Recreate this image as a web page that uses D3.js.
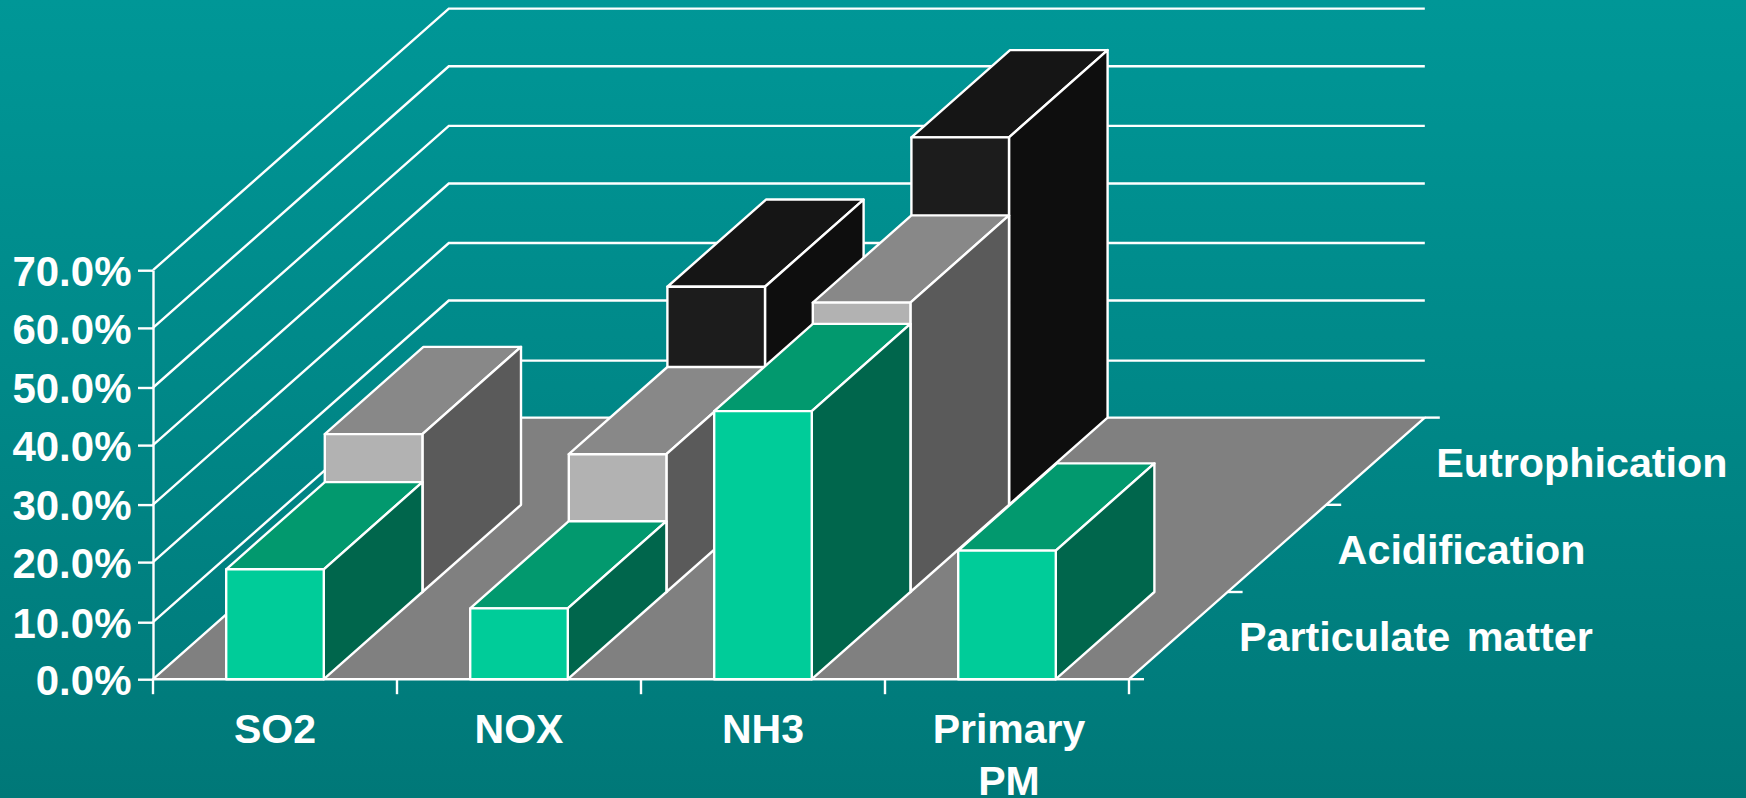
<!DOCTYPE html>
<html><head><meta charset="utf-8">
<script src="https://cdn.jsdelivr.net/npm/d3@7"></script>
<style>
html,body{margin:0;padding:0;overflow:hidden;width:1746px;height:798px;background:#008888}
text{font-family:"Liberation Sans",Arial,sans-serif;font-weight:700;fill:#fff}
</style></head><body>
<svg id="c" width="1746" height="798"></svg>
<script>
// ---- data ----
const categories = ["SO2", "NOX", "NH3", "Primary PM"];
const seriesNames = ["Particulate matter", "Acidification", "Eutrophication"];
const particulate = [18.8, 12.3, 45.9, 22.0];
const acidification = [27.1, 23.6, 49.6, 0];
const eutrophication = [0, 37.3, 62.8, 0];
const percentTicks = [0, 10, 20, 30, 40, 50, 60, 70];
const seriesValues = [particulate, acidification, eutrophication];

// ---- colours ----
const palette = [
  {front:"#00CC99", top:"#02996E", side:"#00664C"},
  {front:"#B2B2B2", top:"#888888", side:"#5A5A5A"},
  {front:"#1C1C1C", top:"#151515", side:"#0E0E0E"}
];
const W = 1746, H = 798;
const svg = d3.select("#c");
const defs = svg.append("defs");
const g = defs.append("linearGradient").attr("id","bg").attr("x1",0).attr("y1",0).attr("x2",0).attr("y2",1);
g.append("stop").attr("offset",0).attr("stop-color","#009797");
g.append("stop").attr("offset",1).attr("stop-color","#007878");
svg.append("rect").attr("width",W).attr("height",H).attr("fill","url(#bg)");

// ---- scales ----
const x = d3.scaleBand().domain(categories).range([153,1129]).paddingInner(0.6).paddingOuter(0.3);
const y = d3.scaleLinear().domain(percentTicks).range([679.2,622.2,562.1,504.6,445.1,387.5,327.9,270.2]);
const zx = d3.scaleLinear().domain([0,3]).range([0,295.8]);   // depth → x shift
const zy = d3.scaleLinear().domain([0,3]).range([0,-261.6]);  // depth → y shift
const L = x.range()[0], R = x.range()[1], y0 = y(0);
const WHITE = "#fff", SW = 2.4;
const pts = a => a.map(p=>p.join(",")).join(" ");

// wall gridlines
const grid = svg.append("g").attr("fill","none").attr("stroke",WHITE).attr("stroke-width",SW);
percentTicks.slice(1).forEach(v=>{
  grid.append("polyline").attr("points",pts([
    [L,y(v)],[L+zx(3),y(v)+zy(3)],[R+zx(3),y(v)+zy(3)]
  ]));
});

// floor
svg.append("polygon").attr("points",pts([
  [L,y0],[R,y0],[R+zx(3),y0+zy(3)],[L+zx(3),y0+zy(3)]
])).attr("fill","#808080").attr("stroke",WHITE).attr("stroke-width",SW).attr("stroke-linejoin","round");

// bars, back row to front row
const bars = svg.append("g").attr("stroke",WHITE).attr("stroke-width",SW).attr("stroke-linejoin","round");
[2,1,0].forEach(r=>{
  categories.forEach((c,i)=>{
    const v = seriesValues[r][i];
    if(!v) return;
    const x0 = x(c)+zx(r), x1 = x0+x.bandwidth();
    const yb = y0+zy(r), yt = y(v)+zy(r);
    const dx = zx(1), dy = zy(1);
    bars.append("polygon").attr("points",pts([[x0,yt],[x1,yt],[x1+dx,yt+dy],[x0+dx,yt+dy]])).attr("fill",palette[r].top);
    bars.append("polygon").attr("points",pts([[x1,yt],[x1+dx,yt+dy],[x1+dx,yb+dy],[x1,yb]])).attr("fill",palette[r].side);
    bars.append("polygon").attr("points",pts([[x0,yt],[x1,yt],[x1,yb],[x0,yb]])).attr("fill",palette[r].front);
  });
});

// y axis
const yAxis = svg.append("g").attr("transform",`translate(${L},0)`)
  .call(d3.axisLeft(y).tickValues(percentTicks).tickSize(15).tickSizeOuter(0).tickPadding(6.5).tickFormat(d=>d.toFixed(1)+"%"));
yAxis.selectAll("path,line").attr("stroke",WHITE).attr("stroke-width",SW);
yAxis.selectAll("text").attr("font-size",42).attr("dy","0.36em").attr("fill",WHITE)
  .style("font-family",'"Liberation Sans",Arial,sans-serif').style("font-weight",700);

// x axis boundary ticks
const axisG = svg.append("g").attr("stroke",WHITE).attr("stroke-width",SW);
const step = x.step();
d3.range(categories.length+1).forEach(i=>{
  const px = L+i*step;
  axisG.append("line").attr("x1",px).attr("x2",px).attr("y1",y0).attr("y2",y0+15);
});
// depth ticks on the floor's right edge
d3.range(4).forEach(r=>{
  axisG.append("line").attr("x1",R+zx(r)).attr("x2",R+zx(r)+15).attr("y1",y0+zy(r)).attr("y2",y0+zy(r));
});

// category labels
const labels = svg.append("g").attr("font-size",41).attr("text-anchor","middle");
categories.forEach(c=>{
  const cx = x(c)+x.bandwidth()/2;
  const words = c==="Primary PM" ? ["Primary","PM"] : [c];
  words.forEach((w,k)=>{
    labels.append("text").attr("x",cx+(words.length>1?2:0)).attr("y",743+k*52).text(w);
  });
});

// series labels
const sl = svg.append("g").attr("font-size",41.3).attr("word-spacing",5);
seriesNames.forEach((s,r)=>{
  sl.append("text").attr("x",R+110+zx(r)).attr("y",y0+zy(r)-28).text(s);
});
</script>
</body></html>
